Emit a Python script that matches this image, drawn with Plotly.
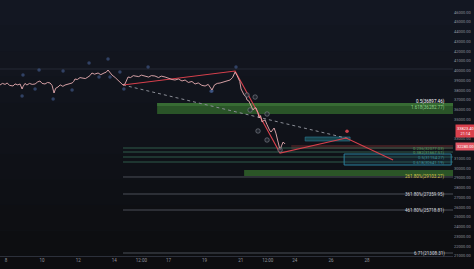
import plotly.graph_objects as go

# ---------------- data ----------------
days = [7.67, 7.80, 7.95, 8.06, 8.20, 8.39, 8.50, 8.65, 8.78, 8.89, 8.95, 9.05, 9.16, 9.30, 9.45, 9.61,
        9.75, 9.88, 10.00, 10.16, 10.30, 10.44, 10.55, 10.66, 10.75, 10.88, 11.00, 11.15, 11.27, 11.45,
        11.66, 11.75, 11.82, 11.95, 12.10, 12.21, 12.40, 12.54, 12.65, 12.76, 12.90, 13.10, 13.25, 13.43,
        13.55, 13.65, 13.75, 13.87, 14.05, 14.20, 14.35, 14.48, 14.59, 14.70, 14.76, 14.90, 15.05, 15.15,
        15.35, 15.50, 15.70, 15.90, 16.05, 16.25, 16.45, 16.60, 16.81, 17.00, 17.20, 17.36, 17.55, 17.75,
        17.92, 18.10, 18.30, 18.47, 18.65, 18.85, 19.03, 19.20, 19.30, 19.41, 19.55, 19.70, 19.86, 20.05,
        20.25, 20.41, 20.55, 20.69, 20.80, 20.86, 20.95, 21.02, 21.10, 21.19, 21.30, 21.35, 21.45, 21.52,
        21.60, 21.68, 21.78, 21.85, 21.95, 22.02, 22.10, 22.18, 22.28, 22.35, 22.45, 22.52, 22.60, 22.68,
        22.78, 22.85, 22.95, 23.01, 23.10, 23.18, 23.26, 23.35, 23.46]
prices = [38540, 38700, 38600, 38744, 38500, 38436, 38650, 38550, 38641, 38128, 38400, 38700, 38538, 38700,
          38600, 38641, 38850, 38949, 38700, 38641, 38800, 38744, 38500, 37718, 38200, 38333, 38550, 38400,
          38538, 38650, 38744, 38900, 39154, 39100, 39300, 39257, 39200, 39359, 39500, 39769, 39650, 39769,
          39600, 39769, 39850, 40077, 39800, 39564, 39300, 39051, 38800, 38538, 38641, 39100, 39359, 39300,
          39500, 39462, 39400, 39550, 39462, 39350, 39500, 39462, 39300, 39450, 39359, 39200, 39100, 39051,
          39150, 38950, 39051, 38800, 38900, 38641, 38750, 38500, 38436, 38600, 38300, 38026, 38550, 38700,
          38744, 38850, 38950, 39051, 39300, 39872, 39500, 39257, 38900, 38128, 37800, 37513, 37300, 37000,
          36900, 36590, 36400, 35975, 36200, 36180, 35700, 35154, 35400, 34744, 34900, 34949, 34500, 34128,
          33900, 33718, 34000, 34128, 33600, 33103, 32500, 31872, 32300, 32692, 32487]

# zig-zag wave pattern (red)
wave_days = [14.48, 20.69, 23.18, 26.84, 29.44]
wave_prices = [38538, 39975, 31564, 33103, 30846]

# dashed trend line
trend_days = [14.48, 27.06]
trend_prices = [38538, 33000]

# swing markers (blue, faint)
swing_days = [8.94, 8.89, 9.83, 9.61, 10.61, 11.16, 11.66, 12.60, 13.15, 13.65, 13.76, 14.31, 14.53,
              15.87, 19.41, 20.74, 19.36]
swing_prices = [39564, 37410, 40077, 38128, 37100, 39975, 38026, 40795, 39359, 41205, 39359, 39872,
                38128, 40385, 37923, 40385, 37900]

# circled wave counts (grey)
count_days = [21.35, 21.80, 21.52, 22.46, 21.96, 22.46, 23.18]
count_prices = [37513, 37300, 35975, 35564, 33821, 32897, 31872]

# fib levels (price, label, colour)
fib_prices = [32077, 31667, 31154, 30641, 29103, 27359, 25718, 21308]
fib_labels = ["0.236(32077.03)", "0.382(31667.51)", "0.5(31154.27)", "0.618(30641.19)",
              "261.80%(29103.27)", "361.80%(27359.95)", "461.80%(25718.81)", "6.71(21308.31)"]
fib_colors = ["#5e9c62", "#5e9c62", "#3f8f9a", "#3f8f9a", "#d6c24a", "#d1d4dc", "#d1d4dc", "#d1d4dc"]
fib_start = 14.48

# zones
zone1 = dict(x0=16.37, y0=35564, y1=36692, top=36385)
zone1_labels = ["0.5(36897.46)", "1.618(36282.77)"]
zone1_label_prices = [36897, 36282]
zone2 = dict(x0=21.19, y0=29205, y1=29821)
box = dict(x0=26.73, y0=30333, y1=31462)
small_zone = dict(x0=24.57, x1=27.06, y0=32795, y1=33205)
red_band = dict(x0=23.8, y0=31970, y1=32385)
level_line = 40180

current_price = 33823.4
second_price = 32280.0

x_tickvals = [8, 10, 12, 14, 15.5, 17, 19, 21, 22.5, 24, 26, 28]
x_ticktext = ["8", "10", "12", "14", "12:00", "17", "19", "21", "12:00", "24", "26", "28"]
# 32000 and 34000 are hidden behind the price labels
y_tickvals = [v for v in range(21000, 48000, 1000) if v not in (32000, 34000)]
y_ticktext = [f"{v:.2f}" for v in y_tickvals]

X_MIN, X_MAX = 7.667, 32.76
Y_MIN, Y_MAX = 21000, 47256

# ---------------- figure ----------------
fig = go.Figure()
shapes = []

# background gradient (paper)
top = (20, 24, 36)
bot = (13, 13, 16)
n = 12
for i in range(n):
    t = i / (n - 1)
    c = tuple(int(top[k] + (bot[k] - top[k]) * t) for k in range(3))
    shapes.append(dict(type="rect", xref="paper", yref="paper", x0=-0.1, x1=1.1,
                       y0=1.1 - (i + 1) * 1.2 / n, y1=1.1 - i * 1.2 / n,
                       fillcolor=f"rgb{c}", line_width=0, layer="below"))

# faint horizontal level
shapes.append(dict(type="line", xref="x", yref="y", x0=X_MIN, x1=X_MAX, y0=level_line, y1=level_line,
                   line=dict(color="#262a36", width=1), layer="below"))

# zone 1 (green)
shapes.append(dict(type="rect", xref="x", yref="y", x0=zone1["x0"], x1=X_MAX, y0=zone1["y0"], y1=zone1["y1"],
                   fillcolor="#2a5428", line_width=0, layer="below"))
shapes.append(dict(type="rect", xref="x", yref="y", x0=zone1["x0"], x1=X_MAX, y0=zone1["top"], y1=zone1["y1"],
                   fillcolor="#376b33", line_width=0, layer="below"))
# zone 2 (green)
shapes.append(dict(type="rect", xref="x", yref="y", x0=zone2["x0"], x1=X_MAX, y0=zone2["y0"], y1=zone2["y1"],
                   fillcolor="#2b5527", line_width=0, layer="below"))
# red band
shapes.append(dict(type="rect", xref="x", yref="y", x0=red_band["x0"], x1=X_MAX, y0=red_band["y0"], y1=red_band["y1"],
                   fillcolor="#3d1e22", line_width=0, layer="below"))
# fib lines
for fp, fc in zip(fib_prices, fib_colors):
    col = "#4a4e58" if fc in ("#d1d4dc", "#d6c24a") else "#2f5a4a"
    shapes.append(dict(type="line", xref="x", yref="y", x0=fib_start, x1=X_MAX, y0=fp, y1=fp,
                       line=dict(color=col, width=1), layer="below"))
# teal box
shapes.append(dict(type="rect", xref="x", yref="y", x0=box["x0"], x1=X_MAX - 0.1, y0=box["y0"], y1=box["y1"],
                   fillcolor="rgba(30,80,100,0.25)", line=dict(color="#2b7f9b", width=1), layer="below"))
# small teal zone
shapes.append(dict(type="rect", xref="x", yref="y", x0=small_zone["x0"], x1=small_zone["x1"],
                   y0=small_zone["y0"], y1=small_zone["y1"],
                   fillcolor="rgba(38,130,140,0.45)", line=dict(color="#2b7f9b", width=0.6), layer="below"))

fig.add_trace(go.Scatter(x=trend_days, y=trend_prices, mode="lines",
                         line=dict(color="#8a8d96", width=1, dash="dot"), hoverinfo="skip"))
fig.add_trace(go.Scatter(x=swing_days, y=swing_prices, mode="markers",
                         marker=dict(color="rgba(80,110,170,0.5)", size=3.5), hoverinfo="skip"))
fig.add_trace(go.Scatter(x=wave_days, y=wave_prices, mode="lines",
                         line=dict(color="#d8404c", width=1.1), hoverinfo="skip"))
fig.add_trace(go.Scatter(x=days, y=prices, mode="lines",
                         line=dict(color="#e9aeb2", width=0.9), hoverinfo="skip"))
fig.add_trace(go.Scatter(x=count_days, y=count_prices, mode="markers",
                         marker=dict(color="rgba(40,44,54,0.7)", size=4.5,
                                     line=dict(color="rgba(140,143,152,0.8)", width=0.7)), hoverinfo="skip"))
fig.add_trace(go.Scatter(x=[wave_days[3] + 0.05], y=[wave_prices[3] + 700], mode="markers",
                         marker=dict(color="#c8404c", size=3.5), hoverinfo="skip"))

annotations = []
for fp, fl, fc in zip(fib_prices[4:], fib_labels[4:], fib_colors[4:]):
    annotations.append(dict(x=32.45, y=fp, xref="x", yref="y", text=fl, showarrow=False,
                            xanchor="right", yanchor="middle", font=dict(size=4.5, color=fc)))
for fp, fl, fc in zip(fib_prices[:4], fib_labels[:4], fib_colors[:4]):
    annotations.append(dict(x=32.45, y=fp, xref="x", yref="y", text=fl, showarrow=False,
                            xanchor="right", yanchor="middle", font=dict(size=4.2, color=fc)))
zc = ["#ffffff", "#8fd18a"]
for zp, zl, c in zip(zone1_label_prices, zone1_labels, zc):
    annotations.append(dict(x=32.45, y=zp, xref="x", yref="y", text=zl, showarrow=False,
                            xanchor="right", yanchor="middle", font=dict(size=4.5, color=c)))
# price labels on axis
annotations.append(dict(x=1.0, y=current_price, xref="paper", yref="y",
                        text=f"{current_price:.2f}<br>21:14", showarrow=False, xanchor="left", yanchor="middle",
                        xshift=2, font=dict(size=4, color="#ffffff"), bgcolor="#d9404c", borderpad=1))
annotations.append(dict(x=1.0, y=second_price, xref="paper", yref="y",
                        text=f"{second_price:.2f}", showarrow=False, xanchor="left", yanchor="middle",
                        xshift=2, font=dict(size=4, color="#ffffff"), bgcolor="#e05563", borderpad=1))

fig.update_layout(
    width=474, height=269,
    margin=dict(l=0, r=21, t=0, b=13),
    paper_bgcolor="#121620", plot_bgcolor="rgba(0,0,0,0)",
    showlegend=False, shapes=shapes, annotations=annotations,
    font=dict(family="Roboto", color="#9a9ea8"),
    xaxis=dict(range=[X_MIN, X_MAX], tickvals=x_tickvals, ticktext=x_ticktext, showgrid=False,
               zeroline=False, showline=True, linecolor="#2c303b", linewidth=1, ticks="",
               tickfont=dict(size=4.5, color="#8e929c")),
    yaxis=dict(range=[Y_MIN, Y_MAX], side="right", tickvals=y_tickvals, ticktext=y_ticktext,
               showgrid=False, zeroline=False, ticks="", tickfont=dict(size=4, color="#8e929c")),
)

fig.write_html("out.html")
